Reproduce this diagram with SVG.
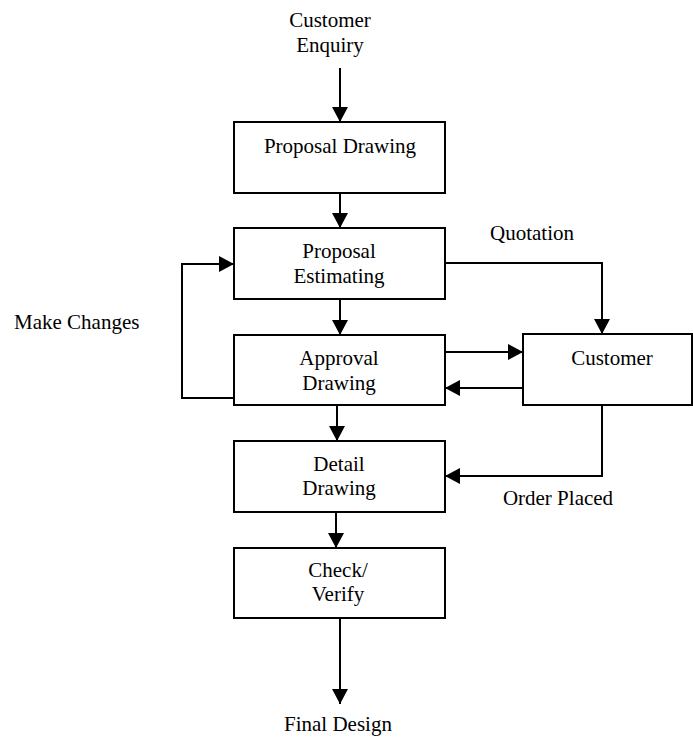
<svg xmlns="http://www.w3.org/2000/svg" width="693" height="738" viewBox="0 0 693 738">
<defs>
<marker id="ah" viewBox="0 0 15 16" refX="15" refY="8" markerWidth="15" markerHeight="16" orient="auto" markerUnits="userSpaceOnUse">
<path d="M0,0 L15,8 L0,16 z" fill="#000"/>
</marker>
<style>
.box{fill:#fff;stroke:#000;stroke-width:2}
.t{font-family:"Liberation Serif","Times New Roman",serif;font-size:21px;fill:#000;text-anchor:middle}
.c{fill:none;stroke:#000;stroke-width:2}
.a{marker-end:url(#ah)}
</style>
</defs>
<rect width="693" height="738" fill="#fff"/>
<g id="connectors">
<path class="c a" d="M340,68 V122"/>
<path class="c a" d="M340,193 V228"/>
<path class="c a" d="M340,299 V335"/>
<path class="c a" d="M445,263 H602 V334"/>
<path class="c a" d="M445,352 H523"/>
<path class="c a" d="M523,388 H445"/>
<path class="c a" d="M234,398 H182 V264 H234"/>
<path class="c a" d="M337,405 V441"/>
<path class="c a" d="M602,405 V476 H445"/>
<path class="c a" d="M336,512 V548"/>
<path class="c a" d="M340,618 V704"/>
</g>
<g id="label-customer-enquiry">
<text class="t" x="330" y="27">Customer</text>
<text class="t" x="330" y="52">Enquiry</text>
</g>
<g id="proposal-drawing">
<rect class="box" x="234" y="122" width="211" height="71"/>
<text class="t" x="340" y="153">Proposal Drawing</text>
</g>
<g id="proposal-estimating">
<rect class="box" x="234" y="228" width="211" height="71"/>
<text class="t" x="339" y="258">Proposal</text>
<text class="t" x="339" y="283">Estimating</text>
</g>
<g id="approval-drawing">
<rect class="box" x="234" y="335" width="211" height="70"/>
<text class="t" x="339" y="365">Approval</text>
<text class="t" x="339" y="390">Drawing</text>
</g>
<g id="customer">
<rect class="box" x="523" y="334" width="169" height="71"/>
<text class="t" x="612" y="365">Customer</text>
</g>
<g id="detail-drawing">
<rect class="box" x="234" y="441" width="211" height="71"/>
<text class="t" x="339" y="471">Detail</text>
<text class="t" x="339" y="495">Drawing</text>
</g>
<g id="check-verify">
<rect class="box" x="234" y="548" width="211" height="70"/>
<text class="t" x="338" y="577">Check/</text>
<text class="t" x="338" y="601">Verify</text>
</g>
<g id="labels">
<text class="t" x="532" y="240">Quotation</text>
<text class="t" x="14" y="329" style="text-anchor:start">Make Changes</text>
<text class="t" x="558" y="505">Order Placed</text>
<text class="t" x="338" y="731">Final Design</text>
</g>
</svg>
